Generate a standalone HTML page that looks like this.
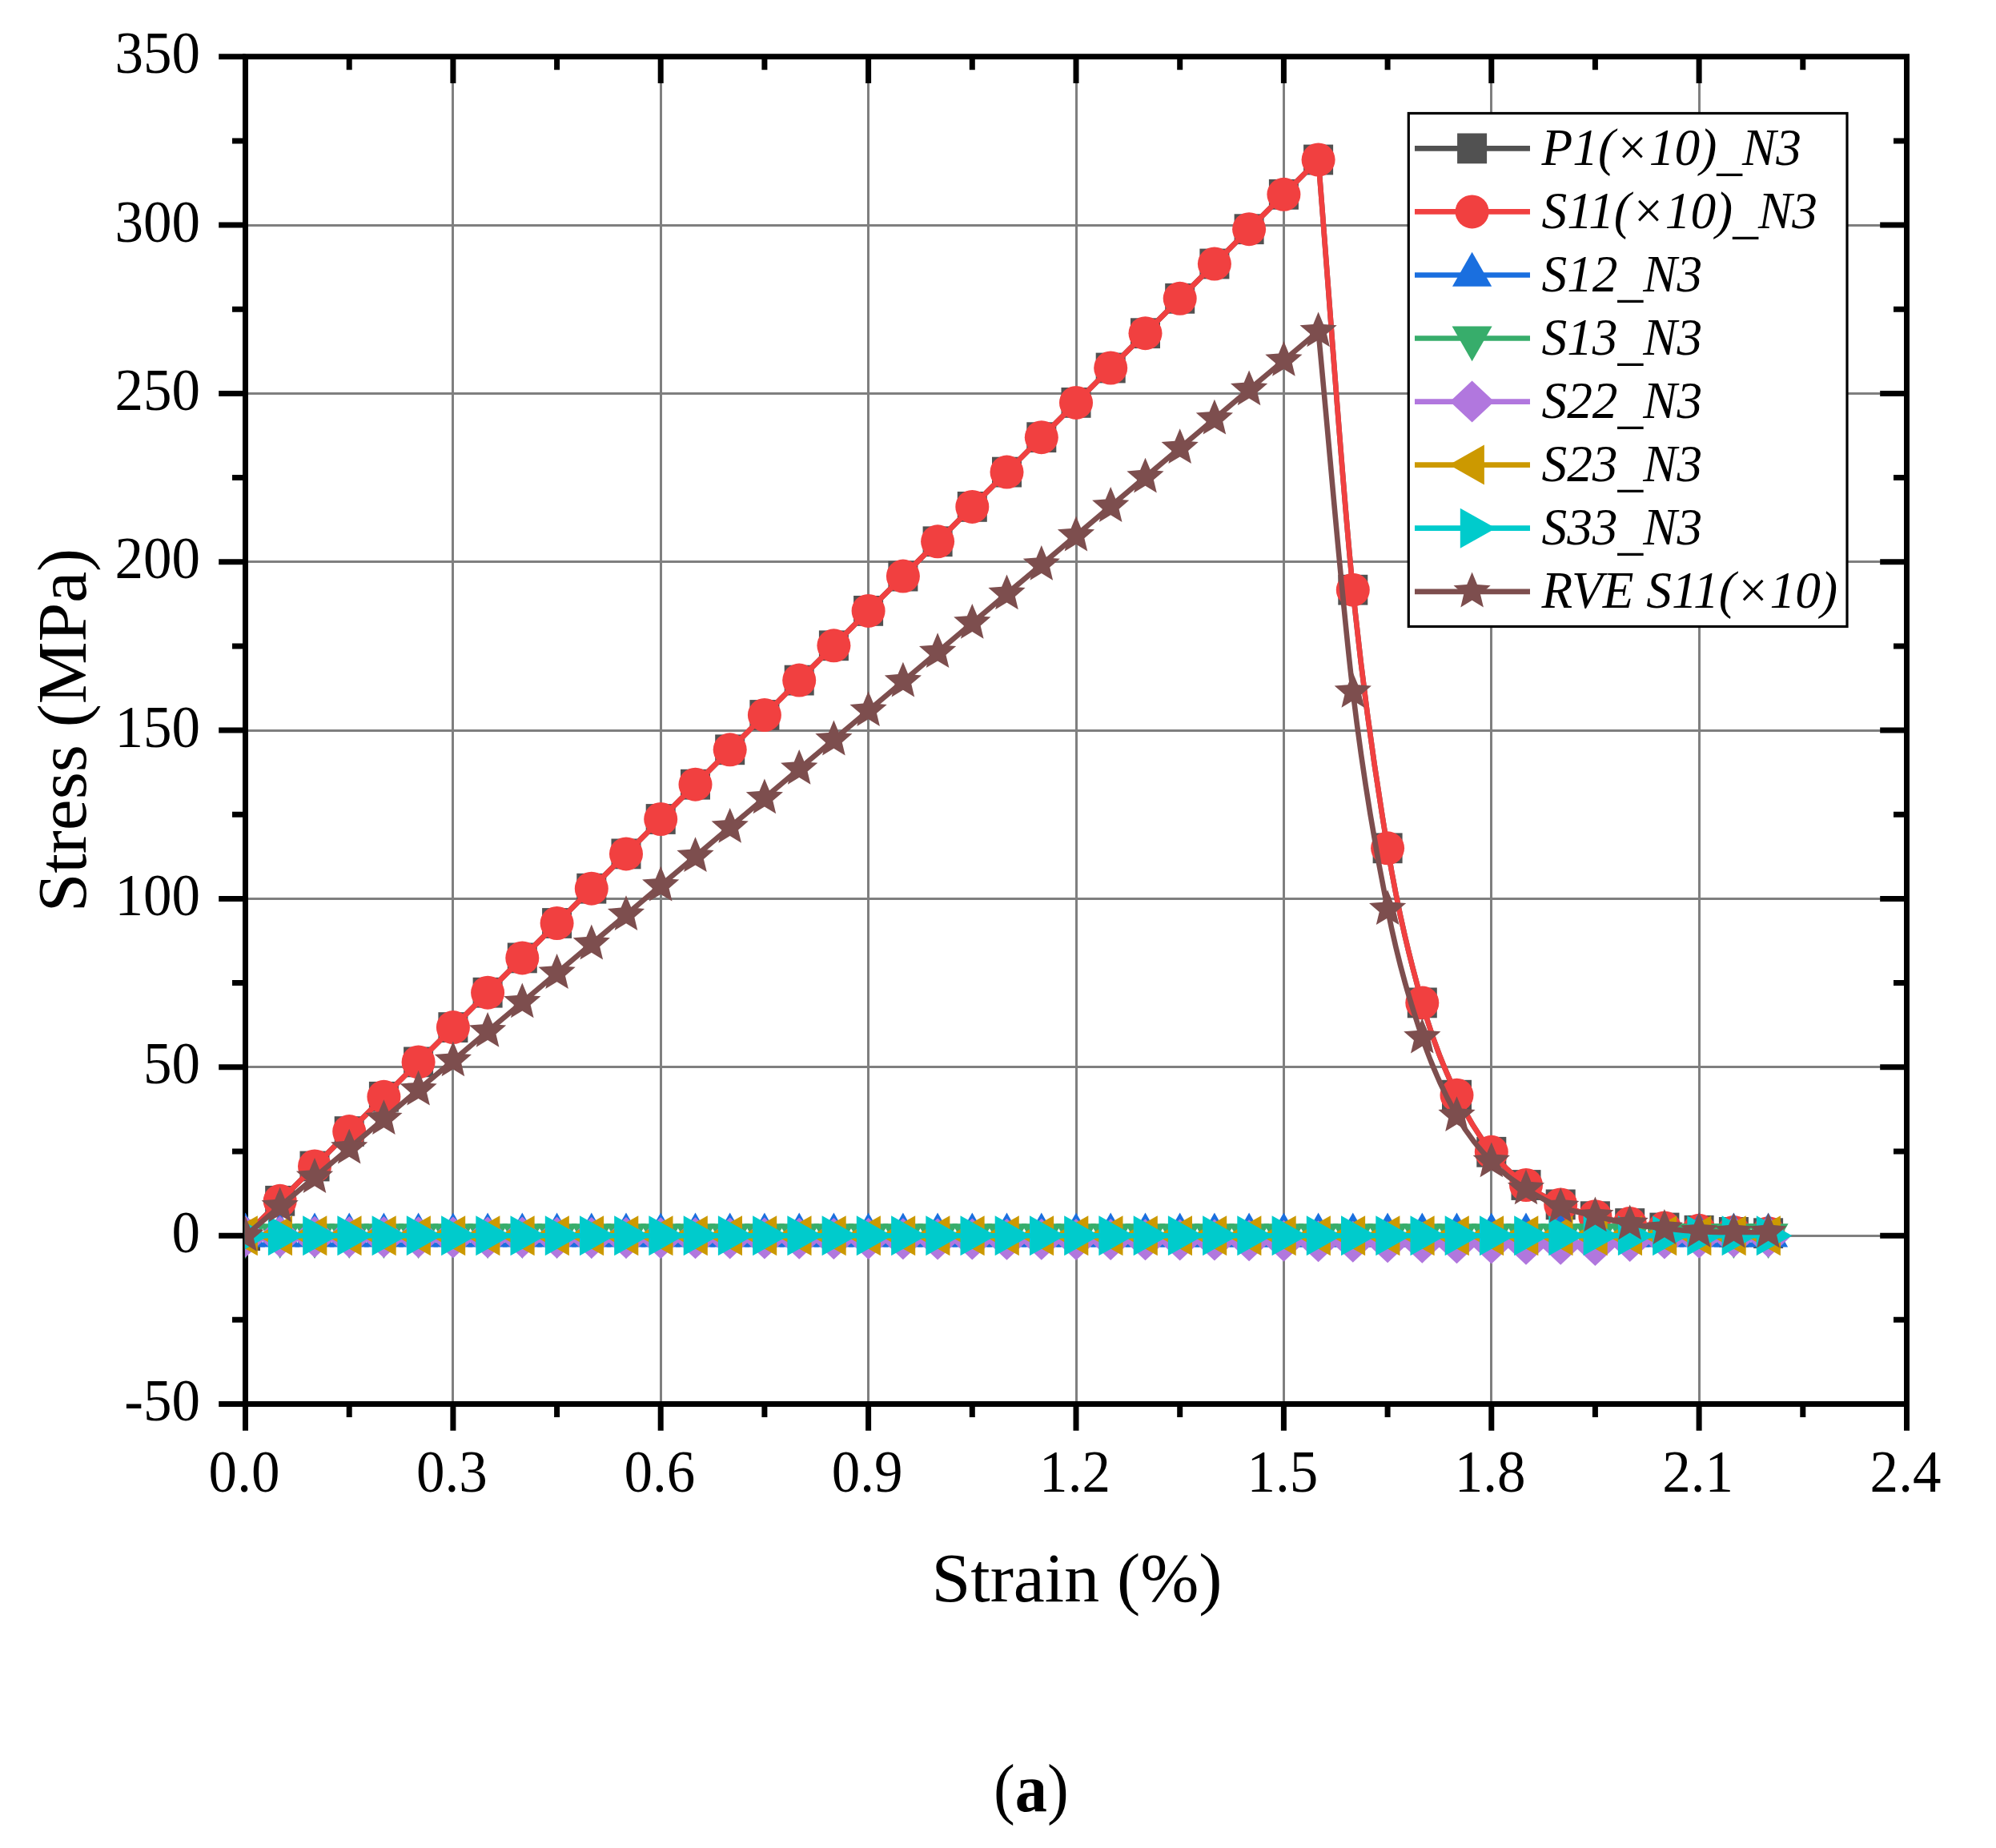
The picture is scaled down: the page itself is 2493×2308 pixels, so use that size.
<!DOCTYPE html>
<html lang="en"><head><meta charset="utf-8"><title>Stress-strain curves (a)</title>
<style>html,body{margin:0;padding:0;background:#fff}svg{display:block}text{font-family:"Liberation Serif","Times New Roman",serif;fill:#000}.tk{font-size:74.8px}.ax{font-size:87.5px}.lg{font-size:65px;font-style:italic}</style></head><body>
<svg width="2493" height="2308" viewBox="0 0 2493 2308">
<rect width="2493" height="2308" fill="#fff"/>
<defs>
<g id="m-sq"><rect x="-18.5" y="-18.9" width="37" height="37.8"/></g>
<g id="m-ci"><circle r="21"/></g>
<g id="m-up"><path d="M0,-28.7L24.6,14.3L-24.6,14.3Z"/></g>
<g id="m-dn"><path d="M0,28.8L25,-15L-25,-15Z"/></g>
<g id="m-di"><path d="M0,-26L27.6,0L0,26L-27.6,0Z"/></g>
<g id="m-lt"><path d="M-28.8,0L15.3,-25L15.3,25Z"/></g>
<g id="m-rt"><path d="M29.8,0L-14.8,-25L-14.8,25Z"/></g>
<g id="m-st"><path d="M0,-24.2L6.4,-8.8L23.1,-7.5L10.4,3.4L14.3,19.6L0,10.9L-14.3,19.6L-10.4,3.4L-23.1,-7.5L-6.4,-8.8Z"/></g>
<clipPath id="clip"><rect x="305.9" y="70.7" width="2075.6" height="1682.8"/></clipPath>
</defs>
<path d="M565.5,70.7V1753.5M825.5,70.7V1753.5M1084.5,70.7V1753.5M1344.5,70.7V1753.5M1603.5,70.7V1753.5M1862.5,70.7V1753.5M2122.5,70.7V1753.5M306.5,1543.5H2381.5M306.5,1332.5H2381.5M306.5,1122.5H2381.5M306.5,912.5H2381.5M306.5,701.5H2381.5M306.5,491.5H2381.5M306.5,281.5H2381.5" stroke="#7F7F7F" stroke-width="3" fill="none"/>
<rect x="306.5" y="70.7" width="2075" height="1682.8" fill="none" stroke="#000" stroke-width="7"/>
<path d="M306.5,1753.5v33.3M436.2,1753.5v16.5M436.2,70.7v16.5M565.9,1753.5v33.3M565.9,70.7v33.3M695.6,1753.5v16.5M695.6,70.7v16.5M825.2,1753.5v33.3M825.2,70.7v33.3M954.9,1753.5v16.5M954.9,70.7v16.5M1084.6,1753.5v33.3M1084.6,70.7v33.3M1214.3,1753.5v16.5M1214.3,70.7v16.5M1344,1753.5v33.3M1344,70.7v33.3M1473.7,1753.5v16.5M1473.7,70.7v16.5M1603.4,1753.5v33.3M1603.4,70.7v33.3M1733.1,1753.5v16.5M1733.1,70.7v16.5M1862.8,1753.5v33.3M1862.8,70.7v33.3M1992.4,1753.5v16.5M1992.4,70.7v16.5M2122.1,1753.5v33.3M2122.1,70.7v33.3M2251.8,1753.5v16.5M2251.8,70.7v16.5M2381.5,1753.5v33.3M306.5,1753.5h-33.3M306.5,1648.3h-16.5M2381.5,1648.3h-16.5M306.5,1543.2h-33.3M2381.5,1543.2h-33.3M306.5,1438h-16.5M2381.5,1438h-16.5M306.5,1332.8h-33.3M2381.5,1332.8h-33.3M306.5,1227.6h-16.5M2381.5,1227.6h-16.5M306.5,1122.5h-33.3M2381.5,1122.5h-33.3M306.5,1017.3h-16.5M2381.5,1017.3h-16.5M306.5,912.1h-33.3M2381.5,912.1h-33.3M306.5,806.9h-16.5M2381.5,806.9h-16.5M306.5,701.8h-33.3M2381.5,701.8h-33.3M306.5,596.6h-16.5M2381.5,596.6h-16.5M306.5,491.4h-33.3M2381.5,491.4h-33.3M306.5,386.2h-16.5M2381.5,386.2h-16.5M306.5,281.1h-33.3M2381.5,281.1h-33.3M306.5,175.9h-16.5M2381.5,175.9h-16.5M306.5,70.7h-33.3" stroke="#000" stroke-width="7" fill="none"/>
<text class="tk" transform="translate(250 1774.1) scale(0.95 1)" text-anchor="end">-50</text>
<text class="tk" transform="translate(250 1563.8) scale(0.95 1)" text-anchor="end">0</text>
<text class="tk" transform="translate(250 1353.4) scale(0.95 1)" text-anchor="end">50</text>
<text class="tk" transform="translate(250 1143) scale(0.95 1)" text-anchor="end">100</text>
<text class="tk" transform="translate(250 932.7) scale(0.95 1)" text-anchor="end">150</text>
<text class="tk" transform="translate(250 722.4) scale(0.95 1)" text-anchor="end">200</text>
<text class="tk" transform="translate(250 512) scale(0.95 1)" text-anchor="end">250</text>
<text class="tk" transform="translate(250 301.7) scale(0.95 1)" text-anchor="end">300</text>
<text class="tk" transform="translate(250 91.3) scale(0.95 1)" text-anchor="end">350</text>
<text class="tk" transform="translate(305 1862.6) scale(0.95 1)" text-anchor="middle">0.0</text>
<text class="tk" transform="translate(564.4 1862.6) scale(0.95 1)" text-anchor="middle">0.3</text>
<text class="tk" transform="translate(823.8 1862.6) scale(0.95 1)" text-anchor="middle">0.6</text>
<text class="tk" transform="translate(1083.1 1862.6) scale(0.95 1)" text-anchor="middle">0.9</text>
<text class="tk" transform="translate(1342.5 1862.6) scale(0.95 1)" text-anchor="middle">1.2</text>
<text class="tk" transform="translate(1601.9 1862.6) scale(0.95 1)" text-anchor="middle">1.5</text>
<text class="tk" transform="translate(1861.2 1862.6) scale(0.95 1)" text-anchor="middle">1.8</text>
<text class="tk" transform="translate(2120.6 1862.6) scale(0.95 1)" text-anchor="middle">2.1</text>
<text class="tk" transform="translate(2380 1862.6) scale(0.95 1)" text-anchor="middle">2.4</text>
<text class="ax" transform="translate(1345 2000.4) scale(1.003 1)" text-anchor="middle">Strain (%)</text>
<text class="ax" transform="translate(107.4 912) rotate(-90)" text-anchor="middle">Stress (MPa)</text>
<g clip-path="url(#clip)">
<path d="M306.5,1543.2L349.7,1499.8L393,1456.5L436.2,1413.1L479.4,1369.8L522.6,1326.4L565.9,1283.1L609.1,1239.7L652.3,1196.4L695.6,1153L738.8,1109.7L782,1066.4L825.2,1023L868.5,979.7L911.7,936.3L954.9,893L998.2,849.6L1041.4,806.3L1084.6,762.9L1127.9,719.6L1171.1,676.3L1214.3,632.9L1257.5,589.6L1300.8,546.2L1344,502.9L1387.2,459.5L1430.5,416.2L1473.7,372.8L1516.9,329.5L1560.1,286.2L1603.4,242.8L1646.6,199.5C1661.01,378.53 1675.42,593.35 1689.8,736.7C1704.24,879.98 1718.65,973.38 1733.1,1059.3C1747.47,1145.31 1761.88,1201.05 1776.3,1252.4C1790.7,1303.84 1805.11,1336.66 1819.5,1367.7C1833.93,1398.78 1848.34,1420.1 1862.8,1438.8C1877.16,1457.54 1891.57,1469.11 1906,1480C1920.39,1490.98 1934.8,1497.92 1949.2,1504.4C1963.62,1510.97 1978.03,1515.24 1992.4,1519.2C2006.85,1523.1 2021.26,1525.62 2035.7,1528C2050.08,1530.39 2064.49,1532 2078.9,1533.5C2093.31,1534.95 2107.72,1535.93 2122.1,1536.8C2136.53,1537.75 2150.94,1538.38 2165.4,1538.9C2179.76,1539.5 2194.17,1539.78 2208.6,1540.2" fill="none" stroke="#515151" stroke-width="6.6" stroke-linejoin="round"/>
<g fill="#515151"><use href="#m-sq" x="306.5" y="1543.2"/><use href="#m-sq" x="349.7" y="1499.8"/><use href="#m-sq" x="393" y="1456.5"/><use href="#m-sq" x="436.2" y="1413.1"/><use href="#m-sq" x="479.4" y="1369.8"/><use href="#m-sq" x="522.6" y="1326.4"/><use href="#m-sq" x="565.9" y="1283.1"/><use href="#m-sq" x="609.1" y="1239.7"/><use href="#m-sq" x="652.3" y="1196.4"/><use href="#m-sq" x="695.6" y="1153"/><use href="#m-sq" x="738.8" y="1109.7"/><use href="#m-sq" x="782" y="1066.4"/><use href="#m-sq" x="825.2" y="1023"/><use href="#m-sq" x="868.5" y="979.7"/><use href="#m-sq" x="911.7" y="936.3"/><use href="#m-sq" x="954.9" y="893"/><use href="#m-sq" x="998.2" y="849.6"/><use href="#m-sq" x="1041.4" y="806.3"/><use href="#m-sq" x="1084.6" y="762.9"/><use href="#m-sq" x="1127.9" y="719.6"/><use href="#m-sq" x="1171.1" y="676.3"/><use href="#m-sq" x="1214.3" y="632.9"/><use href="#m-sq" x="1257.5" y="589.6"/><use href="#m-sq" x="1300.8" y="546.2"/><use href="#m-sq" x="1344" y="502.9"/><use href="#m-sq" x="1387.2" y="459.5"/><use href="#m-sq" x="1430.5" y="416.2"/><use href="#m-sq" x="1473.7" y="372.8"/><use href="#m-sq" x="1516.9" y="329.5"/><use href="#m-sq" x="1560.1" y="286.2"/><use href="#m-sq" x="1603.4" y="242.8"/><use href="#m-sq" x="1646.6" y="199.5"/><use href="#m-sq" x="1689.8" y="736.7"/><use href="#m-sq" x="1733.1" y="1059.3"/><use href="#m-sq" x="1776.3" y="1252.4"/><use href="#m-sq" x="1819.5" y="1367.7"/><use href="#m-sq" x="1862.8" y="1438.8"/><use href="#m-sq" x="1906" y="1480"/><use href="#m-sq" x="1949.2" y="1504.4"/><use href="#m-sq" x="1992.4" y="1519.2"/><use href="#m-sq" x="2035.7" y="1528"/><use href="#m-sq" x="2078.9" y="1533.5"/><use href="#m-sq" x="2122.1" y="1536.8"/><use href="#m-sq" x="2165.4" y="1538.9"/><use href="#m-sq" x="2208.6" y="1540.2"/></g>
<path d="M306.5,1543.2L349.7,1499.8L393,1456.5L436.2,1413.1L479.4,1369.8L522.6,1326.4L565.9,1283.1L609.1,1239.7L652.3,1196.4L695.6,1153L738.8,1109.7L782,1066.4L825.2,1023L868.5,979.7L911.7,936.3L954.9,893L998.2,849.6L1041.4,806.3L1084.6,762.9L1127.9,719.6L1171.1,676.3L1214.3,632.9L1257.5,589.6L1300.8,546.2L1344,502.9L1387.2,459.5L1430.5,416.2L1473.7,372.8L1516.9,329.5L1560.1,286.2L1603.4,242.8L1646.6,199.5C1661.01,378.53 1675.42,593.35 1689.8,736.7C1704.24,879.98 1718.65,973.38 1733.1,1059.3C1747.47,1145.31 1761.88,1201.05 1776.3,1252.4C1790.7,1303.84 1805.11,1336.66 1819.5,1367.7C1833.93,1398.78 1848.34,1420.1 1862.8,1438.8C1877.16,1457.54 1891.57,1469.11 1906,1480C1920.39,1490.98 1934.8,1497.92 1949.2,1504.4C1963.62,1510.97 1978.03,1515.24 1992.4,1519.2C2006.85,1523.1 2021.26,1525.62 2035.7,1528C2050.08,1530.39 2064.49,1532 2078.9,1533.5C2093.31,1534.95 2107.72,1535.93 2122.1,1536.8C2136.53,1537.75 2150.94,1538.38 2165.4,1538.9C2179.76,1539.5 2194.17,1539.78 2208.6,1540.2" fill="none" stroke="#F14040" stroke-width="6.6" stroke-linejoin="round"/>
<g fill="#F14040"><use href="#m-ci" x="306.5" y="1543.2"/><use href="#m-ci" x="349.7" y="1499.8"/><use href="#m-ci" x="393" y="1456.5"/><use href="#m-ci" x="436.2" y="1413.1"/><use href="#m-ci" x="479.4" y="1369.8"/><use href="#m-ci" x="522.6" y="1326.4"/><use href="#m-ci" x="565.9" y="1283.1"/><use href="#m-ci" x="609.1" y="1239.7"/><use href="#m-ci" x="652.3" y="1196.4"/><use href="#m-ci" x="695.6" y="1153"/><use href="#m-ci" x="738.8" y="1109.7"/><use href="#m-ci" x="782" y="1066.4"/><use href="#m-ci" x="825.2" y="1023"/><use href="#m-ci" x="868.5" y="979.7"/><use href="#m-ci" x="911.7" y="936.3"/><use href="#m-ci" x="954.9" y="893"/><use href="#m-ci" x="998.2" y="849.6"/><use href="#m-ci" x="1041.4" y="806.3"/><use href="#m-ci" x="1084.6" y="762.9"/><use href="#m-ci" x="1127.9" y="719.6"/><use href="#m-ci" x="1171.1" y="676.3"/><use href="#m-ci" x="1214.3" y="632.9"/><use href="#m-ci" x="1257.5" y="589.6"/><use href="#m-ci" x="1300.8" y="546.2"/><use href="#m-ci" x="1344" y="502.9"/><use href="#m-ci" x="1387.2" y="459.5"/><use href="#m-ci" x="1430.5" y="416.2"/><use href="#m-ci" x="1473.7" y="372.8"/><use href="#m-ci" x="1516.9" y="329.5"/><use href="#m-ci" x="1560.1" y="286.2"/><use href="#m-ci" x="1603.4" y="242.8"/><use href="#m-ci" x="1646.6" y="199.5"/><use href="#m-ci" x="1689.8" y="736.7"/><use href="#m-ci" x="1733.1" y="1059.3"/><use href="#m-ci" x="1776.3" y="1252.4"/><use href="#m-ci" x="1819.5" y="1367.7"/><use href="#m-ci" x="1862.8" y="1438.8"/><use href="#m-ci" x="1906" y="1480"/><use href="#m-ci" x="1949.2" y="1504.4"/><use href="#m-ci" x="1992.4" y="1519.2"/><use href="#m-ci" x="2035.7" y="1528"/><use href="#m-ci" x="2078.9" y="1533.5"/><use href="#m-ci" x="2122.1" y="1536.8"/><use href="#m-ci" x="2165.4" y="1538.9"/><use href="#m-ci" x="2208.6" y="1540.2"/></g>
<path d="M306.5,1543.2L349.7,1543.2L393,1543.2L436.2,1543.2L479.4,1543.2L522.6,1543.2L565.9,1543.2L609.1,1543.2L652.3,1543.2L695.6,1543.2L738.8,1543.2L782,1543.2L825.2,1543.2L868.5,1543.2L911.7,1543.2L954.9,1543.2L998.2,1543.2L1041.4,1543.2L1084.6,1543.2L1127.9,1543.2L1171.1,1543.2L1214.3,1543.2L1257.5,1543.2L1300.8,1543.2L1344,1543.2L1387.2,1543.2L1430.5,1543.2L1473.7,1543.2L1516.9,1543.2L1560.1,1543.2L1603.4,1543.2L1646.6,1543.2L1689.8,1543.2L1733.1,1543.2L1776.3,1543.2L1819.5,1543.2L1862.8,1543.2L1906,1543.2L1949.2,1543.2L1992.4,1543.2L2035.7,1543.2L2078.9,1543.2L2122.1,1543.2L2165.4,1543.2L2208.6,1543.2" fill="none" stroke="#1A6FDF" stroke-width="6.6" stroke-linejoin="round"/>
<g fill="#1A6FDF"><use href="#m-up" x="306.5" y="1543.2"/><use href="#m-up" x="349.7" y="1543.2"/><use href="#m-up" x="393" y="1543.2"/><use href="#m-up" x="436.2" y="1543.2"/><use href="#m-up" x="479.4" y="1543.2"/><use href="#m-up" x="522.6" y="1543.2"/><use href="#m-up" x="565.9" y="1543.2"/><use href="#m-up" x="609.1" y="1543.2"/><use href="#m-up" x="652.3" y="1543.2"/><use href="#m-up" x="695.6" y="1543.2"/><use href="#m-up" x="738.8" y="1543.2"/><use href="#m-up" x="782" y="1543.2"/><use href="#m-up" x="825.2" y="1543.2"/><use href="#m-up" x="868.5" y="1543.2"/><use href="#m-up" x="911.7" y="1543.2"/><use href="#m-up" x="954.9" y="1543.2"/><use href="#m-up" x="998.2" y="1543.2"/><use href="#m-up" x="1041.4" y="1543.2"/><use href="#m-up" x="1084.6" y="1543.2"/><use href="#m-up" x="1127.9" y="1543.2"/><use href="#m-up" x="1171.1" y="1543.2"/><use href="#m-up" x="1214.3" y="1543.2"/><use href="#m-up" x="1257.5" y="1543.2"/><use href="#m-up" x="1300.8" y="1543.2"/><use href="#m-up" x="1344" y="1543.2"/><use href="#m-up" x="1387.2" y="1543.2"/><use href="#m-up" x="1430.5" y="1543.2"/><use href="#m-up" x="1473.7" y="1543.2"/><use href="#m-up" x="1516.9" y="1543.2"/><use href="#m-up" x="1560.1" y="1543.2"/><use href="#m-up" x="1603.4" y="1543.2"/><use href="#m-up" x="1646.6" y="1543.2"/><use href="#m-up" x="1689.8" y="1543.2"/><use href="#m-up" x="1733.1" y="1543.2"/><use href="#m-up" x="1776.3" y="1543.2"/><use href="#m-up" x="1819.5" y="1543.2"/><use href="#m-up" x="1862.8" y="1543.2"/><use href="#m-up" x="1906" y="1543.2"/><use href="#m-up" x="1949.2" y="1543.2"/><use href="#m-up" x="1992.4" y="1543.2"/><use href="#m-up" x="2035.7" y="1543.2"/><use href="#m-up" x="2078.9" y="1543.2"/><use href="#m-up" x="2122.1" y="1543.2"/><use href="#m-up" x="2165.4" y="1543.2"/><use href="#m-up" x="2208.6" y="1543.2"/></g>
<path d="M306.5,1543.2L349.7,1543.2L393,1543.2L436.2,1543.2L479.4,1543.2L522.6,1543.2L565.9,1543.2L609.1,1543.2L652.3,1543.2L695.6,1543.2L738.8,1543.2L782,1543.2L825.2,1543.2L868.5,1543.2L911.7,1543.2L954.9,1543.2L998.2,1543.2L1041.4,1543.2L1084.6,1543.2L1127.9,1543.2L1171.1,1543.2L1214.3,1543.2L1257.5,1543.2L1300.8,1543.2L1344,1543.2L1387.2,1543.2L1430.5,1543.2L1473.7,1543.2L1516.9,1543.2L1560.1,1543.2L1603.4,1543.2L1646.6,1543.2L1689.8,1543.2L1733.1,1543.2L1776.3,1543.2L1819.5,1543.2L1862.8,1543.2L1906,1543.2L1949.2,1543.2L1992.4,1543.2L2035.7,1543.2L2078.9,1543.2L2122.1,1543.2L2165.4,1543.2L2208.6,1543.2" fill="none" stroke="#37AD6B" stroke-width="6.6" stroke-linejoin="round"/>
<g fill="#37AD6B"><use href="#m-dn" x="306.5" y="1543.2"/><use href="#m-dn" x="349.7" y="1543.2"/><use href="#m-dn" x="393" y="1543.2"/><use href="#m-dn" x="436.2" y="1543.2"/><use href="#m-dn" x="479.4" y="1543.2"/><use href="#m-dn" x="522.6" y="1543.2"/><use href="#m-dn" x="565.9" y="1543.2"/><use href="#m-dn" x="609.1" y="1543.2"/><use href="#m-dn" x="652.3" y="1543.2"/><use href="#m-dn" x="695.6" y="1543.2"/><use href="#m-dn" x="738.8" y="1543.2"/><use href="#m-dn" x="782" y="1543.2"/><use href="#m-dn" x="825.2" y="1543.2"/><use href="#m-dn" x="868.5" y="1543.2"/><use href="#m-dn" x="911.7" y="1543.2"/><use href="#m-dn" x="954.9" y="1543.2"/><use href="#m-dn" x="998.2" y="1543.2"/><use href="#m-dn" x="1041.4" y="1543.2"/><use href="#m-dn" x="1084.6" y="1543.2"/><use href="#m-dn" x="1127.9" y="1543.2"/><use href="#m-dn" x="1171.1" y="1543.2"/><use href="#m-dn" x="1214.3" y="1543.2"/><use href="#m-dn" x="1257.5" y="1543.2"/><use href="#m-dn" x="1300.8" y="1543.2"/><use href="#m-dn" x="1344" y="1543.2"/><use href="#m-dn" x="1387.2" y="1543.2"/><use href="#m-dn" x="1430.5" y="1543.2"/><use href="#m-dn" x="1473.7" y="1543.2"/><use href="#m-dn" x="1516.9" y="1543.2"/><use href="#m-dn" x="1560.1" y="1543.2"/><use href="#m-dn" x="1603.4" y="1543.2"/><use href="#m-dn" x="1646.6" y="1543.2"/><use href="#m-dn" x="1689.8" y="1543.2"/><use href="#m-dn" x="1733.1" y="1543.2"/><use href="#m-dn" x="1776.3" y="1543.2"/><use href="#m-dn" x="1819.5" y="1543.2"/><use href="#m-dn" x="1862.8" y="1543.2"/><use href="#m-dn" x="1906" y="1543.2"/><use href="#m-dn" x="1949.2" y="1543.2"/><use href="#m-dn" x="1992.4" y="1543.2"/><use href="#m-dn" x="2035.7" y="1543.2"/><use href="#m-dn" x="2078.9" y="1543.2"/><use href="#m-dn" x="2122.1" y="1543.2"/><use href="#m-dn" x="2165.4" y="1543.2"/><use href="#m-dn" x="2208.6" y="1543.2"/></g>
<path d="M306.5,1544.4L349.7,1544.6L393,1544.8L436.2,1545L479.4,1545.1L522.6,1545.2L565.9,1545.4L609.1,1545.5L652.3,1545.6L695.6,1545.8L738.8,1545.9L782,1546L825.2,1546.2L868.5,1546.3L911.7,1546.5L954.9,1546.6L998.2,1546.7L1041.4,1546.9L1084.6,1547L1127.9,1547.2L1171.1,1547.4L1214.3,1547.5L1257.5,1547.7L1300.8,1547.8L1344,1548L1387.2,1548.1L1430.5,1548.3L1473.7,1548.5L1516.9,1548.6L1560.1,1549.2L1603.4,1549.7L1646.6,1550.3L1689.8,1550.8L1733.1,1551.2L1776.3,1551.7L1819.5,1552.2L1862.8,1552.6L1906,1553.7L1949.2,1553.7L1992.4,1554.9L2035.7,1549.9L2078.9,1546.5L2122.1,1545.7L2165.4,1544.8L2208.6,1544.8" fill="none" stroke="#B177DE" stroke-width="6.6" stroke-linejoin="round"/>
<g fill="#B177DE"><use href="#m-di" x="306.5" y="1544.4"/><use href="#m-di" x="349.7" y="1544.6"/><use href="#m-di" x="393" y="1544.8"/><use href="#m-di" x="436.2" y="1545"/><use href="#m-di" x="479.4" y="1545.1"/><use href="#m-di" x="522.6" y="1545.2"/><use href="#m-di" x="565.9" y="1545.4"/><use href="#m-di" x="609.1" y="1545.5"/><use href="#m-di" x="652.3" y="1545.6"/><use href="#m-di" x="695.6" y="1545.8"/><use href="#m-di" x="738.8" y="1545.9"/><use href="#m-di" x="782" y="1546"/><use href="#m-di" x="825.2" y="1546.2"/><use href="#m-di" x="868.5" y="1546.3"/><use href="#m-di" x="911.7" y="1546.5"/><use href="#m-di" x="954.9" y="1546.6"/><use href="#m-di" x="998.2" y="1546.7"/><use href="#m-di" x="1041.4" y="1546.9"/><use href="#m-di" x="1084.6" y="1547"/><use href="#m-di" x="1127.9" y="1547.2"/><use href="#m-di" x="1171.1" y="1547.4"/><use href="#m-di" x="1214.3" y="1547.5"/><use href="#m-di" x="1257.5" y="1547.7"/><use href="#m-di" x="1300.8" y="1547.8"/><use href="#m-di" x="1344" y="1548"/><use href="#m-di" x="1387.2" y="1548.1"/><use href="#m-di" x="1430.5" y="1548.3"/><use href="#m-di" x="1473.7" y="1548.5"/><use href="#m-di" x="1516.9" y="1548.6"/><use href="#m-di" x="1560.1" y="1549.2"/><use href="#m-di" x="1603.4" y="1549.7"/><use href="#m-di" x="1646.6" y="1550.3"/><use href="#m-di" x="1689.8" y="1550.8"/><use href="#m-di" x="1733.1" y="1551.2"/><use href="#m-di" x="1776.3" y="1551.7"/><use href="#m-di" x="1819.5" y="1552.2"/><use href="#m-di" x="1862.8" y="1552.6"/><use href="#m-di" x="1906" y="1553.7"/><use href="#m-di" x="1949.2" y="1553.7"/><use href="#m-di" x="1992.4" y="1554.9"/><use href="#m-di" x="2035.7" y="1549.9"/><use href="#m-di" x="2078.9" y="1546.5"/><use href="#m-di" x="2122.1" y="1545.7"/><use href="#m-di" x="2165.4" y="1544.8"/><use href="#m-di" x="2208.6" y="1544.8"/></g>
<path d="M306.5,1543.2L349.7,1543.2L393,1543.2L436.2,1543.2L479.4,1543.2L522.6,1543.2L565.9,1543.2L609.1,1543.2L652.3,1543.2L695.6,1543.2L738.8,1543.2L782,1543.2L825.2,1543.2L868.5,1543.2L911.7,1543.2L954.9,1543.2L998.2,1543.2L1041.4,1543.2L1084.6,1543.2L1127.9,1543.2L1171.1,1543.2L1214.3,1543.2L1257.5,1543.2L1300.8,1543.2L1344,1543.2L1387.2,1543.2L1430.5,1543.2L1473.7,1543.2L1516.9,1543.2L1560.1,1543.2L1603.4,1543.2L1646.6,1543.2L1689.8,1543.2L1733.1,1543.2L1776.3,1543.2L1819.5,1543.2L1862.8,1543.2L1906,1543.2L1949.2,1543.2L1992.4,1543.2L2035.7,1543.2L2078.9,1543.2L2122.1,1543.2L2165.4,1543.2L2208.6,1543.2" fill="none" stroke="#CC9900" stroke-width="6.6" stroke-linejoin="round"/>
<g fill="#CC9900"><use href="#m-lt" x="306.5" y="1543.2"/><use href="#m-lt" x="349.7" y="1543.2"/><use href="#m-lt" x="393" y="1543.2"/><use href="#m-lt" x="436.2" y="1543.2"/><use href="#m-lt" x="479.4" y="1543.2"/><use href="#m-lt" x="522.6" y="1543.2"/><use href="#m-lt" x="565.9" y="1543.2"/><use href="#m-lt" x="609.1" y="1543.2"/><use href="#m-lt" x="652.3" y="1543.2"/><use href="#m-lt" x="695.6" y="1543.2"/><use href="#m-lt" x="738.8" y="1543.2"/><use href="#m-lt" x="782" y="1543.2"/><use href="#m-lt" x="825.2" y="1543.2"/><use href="#m-lt" x="868.5" y="1543.2"/><use href="#m-lt" x="911.7" y="1543.2"/><use href="#m-lt" x="954.9" y="1543.2"/><use href="#m-lt" x="998.2" y="1543.2"/><use href="#m-lt" x="1041.4" y="1543.2"/><use href="#m-lt" x="1084.6" y="1543.2"/><use href="#m-lt" x="1127.9" y="1543.2"/><use href="#m-lt" x="1171.1" y="1543.2"/><use href="#m-lt" x="1214.3" y="1543.2"/><use href="#m-lt" x="1257.5" y="1543.2"/><use href="#m-lt" x="1300.8" y="1543.2"/><use href="#m-lt" x="1344" y="1543.2"/><use href="#m-lt" x="1387.2" y="1543.2"/><use href="#m-lt" x="1430.5" y="1543.2"/><use href="#m-lt" x="1473.7" y="1543.2"/><use href="#m-lt" x="1516.9" y="1543.2"/><use href="#m-lt" x="1560.1" y="1543.2"/><use href="#m-lt" x="1603.4" y="1543.2"/><use href="#m-lt" x="1646.6" y="1543.2"/><use href="#m-lt" x="1689.8" y="1543.2"/><use href="#m-lt" x="1733.1" y="1543.2"/><use href="#m-lt" x="1776.3" y="1543.2"/><use href="#m-lt" x="1819.5" y="1543.2"/><use href="#m-lt" x="1862.8" y="1543.2"/><use href="#m-lt" x="1906" y="1543.2"/><use href="#m-lt" x="1949.2" y="1543.2"/><use href="#m-lt" x="1992.4" y="1543.2"/><use href="#m-lt" x="2035.7" y="1543.2"/><use href="#m-lt" x="2078.9" y="1543.2"/><use href="#m-lt" x="2122.1" y="1543.2"/><use href="#m-lt" x="2165.4" y="1543.2"/><use href="#m-lt" x="2208.6" y="1543.2"/></g>
<path d="M306.5,1543.2L349.7,1543.2L393,1543.2L436.2,1543.2L479.4,1543.2L522.6,1543.2L565.9,1543.2L609.1,1543.2L652.3,1543.2L695.6,1543.2L738.8,1543.2L782,1543.2L825.2,1543.2L868.5,1543.2L911.7,1543.2L954.9,1543.2L998.2,1543.2L1041.4,1543.2L1084.6,1543.2L1127.9,1543.2L1171.1,1543.2L1214.3,1543.2L1257.5,1543.2L1300.8,1543.2L1344,1543.2L1387.2,1543.2L1430.5,1543.2L1473.7,1543.2L1516.9,1543.2L1560.1,1543.2L1603.4,1543.2L1646.6,1543.2L1689.8,1543.2L1733.1,1543.2L1776.3,1543.2L1819.5,1543.2L1862.8,1543.2L1906,1543.2L1949.2,1543.2L1992.4,1543.2L2035.7,1543.2L2078.9,1543.2L2122.1,1543.2L2165.4,1543.2L2208.6,1543.2" fill="none" stroke="#00CBCC" stroke-width="6.6" stroke-linejoin="round"/>
<g fill="#00CBCC"><use href="#m-rt" x="306.5" y="1543.2"/><use href="#m-rt" x="349.7" y="1543.2"/><use href="#m-rt" x="393" y="1543.2"/><use href="#m-rt" x="436.2" y="1543.2"/><use href="#m-rt" x="479.4" y="1543.2"/><use href="#m-rt" x="522.6" y="1543.2"/><use href="#m-rt" x="565.9" y="1543.2"/><use href="#m-rt" x="609.1" y="1543.2"/><use href="#m-rt" x="652.3" y="1543.2"/><use href="#m-rt" x="695.6" y="1543.2"/><use href="#m-rt" x="738.8" y="1543.2"/><use href="#m-rt" x="782" y="1543.2"/><use href="#m-rt" x="825.2" y="1543.2"/><use href="#m-rt" x="868.5" y="1543.2"/><use href="#m-rt" x="911.7" y="1543.2"/><use href="#m-rt" x="954.9" y="1543.2"/><use href="#m-rt" x="998.2" y="1543.2"/><use href="#m-rt" x="1041.4" y="1543.2"/><use href="#m-rt" x="1084.6" y="1543.2"/><use href="#m-rt" x="1127.9" y="1543.2"/><use href="#m-rt" x="1171.1" y="1543.2"/><use href="#m-rt" x="1214.3" y="1543.2"/><use href="#m-rt" x="1257.5" y="1543.2"/><use href="#m-rt" x="1300.8" y="1543.2"/><use href="#m-rt" x="1344" y="1543.2"/><use href="#m-rt" x="1387.2" y="1543.2"/><use href="#m-rt" x="1430.5" y="1543.2"/><use href="#m-rt" x="1473.7" y="1543.2"/><use href="#m-rt" x="1516.9" y="1543.2"/><use href="#m-rt" x="1560.1" y="1543.2"/><use href="#m-rt" x="1603.4" y="1543.2"/><use href="#m-rt" x="1646.6" y="1543.2"/><use href="#m-rt" x="1689.8" y="1543.2"/><use href="#m-rt" x="1733.1" y="1543.2"/><use href="#m-rt" x="1776.3" y="1543.2"/><use href="#m-rt" x="1819.5" y="1543.2"/><use href="#m-rt" x="1862.8" y="1543.2"/><use href="#m-rt" x="1906" y="1543.2"/><use href="#m-rt" x="1949.2" y="1543.2"/><use href="#m-rt" x="1992.4" y="1543.2"/><use href="#m-rt" x="2035.7" y="1543.2"/><use href="#m-rt" x="2078.9" y="1543.2"/><use href="#m-rt" x="2122.1" y="1543.2"/><use href="#m-rt" x="2165.4" y="1543.2"/><use href="#m-rt" x="2208.6" y="1543.2"/></g>
<path d="M306.5,1543.2L349.7,1506.7L393,1470.3L436.2,1433.9L479.4,1397.4L522.6,1361L565.9,1324.6L609.1,1288.1L652.3,1251.7L695.6,1215.3L738.8,1178.8L782,1142.4L825.2,1106L868.5,1069.5L911.7,1033.1L954.9,996.7L998.2,960.2L1041.4,923.8L1084.6,887.4L1127.9,850.9L1171.1,814.5L1214.3,778.1L1257.5,741.6L1300.8,705.2L1344,668.8L1387.2,632.3L1430.5,595.9L1473.7,559.5L1516.9,523L1560.1,486.6L1603.4,450.2L1646.6,413.7C1661.01,563.87 1675.42,743.85 1689.8,864.1C1704.24,984.43 1718.65,1063.55 1733.1,1135.5C1747.47,1207.43 1761.88,1252.8 1776.3,1295.8C1790.7,1338.76 1805.11,1367.58 1819.5,1393.4C1833.93,1419.18 1848.34,1435.38 1862.8,1450.6C1877.16,1465.81 1891.57,1475.21 1906,1484.7C1920.39,1494.14 1934.8,1501.71 1949.2,1507.4C1963.62,1513.07 1978.03,1515.21 1992.4,1518.7C2006.85,1522.29 2021.26,1526.04 2035.7,1528.6C2050.08,1531.23 2064.49,1532.74 2078.9,1534.3C2093.31,1535.89 2107.72,1537.33 2122.1,1538.1C2136.53,1538.87 2150.94,1538.8 2165.4,1538.9C2179.76,1539.08 2194.17,1538.94 2208.6,1538.9" fill="none" stroke="#7D4E4E" stroke-width="6.6" stroke-linejoin="round"/>
<g fill="#7D4E4E"><use href="#m-st" x="306.5" y="1543.2"/><use href="#m-st" x="349.7" y="1506.7"/><use href="#m-st" x="393" y="1470.3"/><use href="#m-st" x="436.2" y="1433.9"/><use href="#m-st" x="479.4" y="1397.4"/><use href="#m-st" x="522.6" y="1361"/><use href="#m-st" x="565.9" y="1324.6"/><use href="#m-st" x="609.1" y="1288.1"/><use href="#m-st" x="652.3" y="1251.7"/><use href="#m-st" x="695.6" y="1215.3"/><use href="#m-st" x="738.8" y="1178.8"/><use href="#m-st" x="782" y="1142.4"/><use href="#m-st" x="825.2" y="1106"/><use href="#m-st" x="868.5" y="1069.5"/><use href="#m-st" x="911.7" y="1033.1"/><use href="#m-st" x="954.9" y="996.7"/><use href="#m-st" x="998.2" y="960.2"/><use href="#m-st" x="1041.4" y="923.8"/><use href="#m-st" x="1084.6" y="887.4"/><use href="#m-st" x="1127.9" y="850.9"/><use href="#m-st" x="1171.1" y="814.5"/><use href="#m-st" x="1214.3" y="778.1"/><use href="#m-st" x="1257.5" y="741.6"/><use href="#m-st" x="1300.8" y="705.2"/><use href="#m-st" x="1344" y="668.8"/><use href="#m-st" x="1387.2" y="632.3"/><use href="#m-st" x="1430.5" y="595.9"/><use href="#m-st" x="1473.7" y="559.5"/><use href="#m-st" x="1516.9" y="523"/><use href="#m-st" x="1560.1" y="486.6"/><use href="#m-st" x="1603.4" y="450.2"/><use href="#m-st" x="1646.6" y="413.7"/><use href="#m-st" x="1689.8" y="864.1"/><use href="#m-st" x="1733.1" y="1135.5"/><use href="#m-st" x="1776.3" y="1295.8"/><use href="#m-st" x="1819.5" y="1393.4"/><use href="#m-st" x="1862.8" y="1450.6"/><use href="#m-st" x="1906" y="1484.7"/><use href="#m-st" x="1949.2" y="1507.4"/><use href="#m-st" x="1992.4" y="1518.7"/><use href="#m-st" x="2035.7" y="1528.6"/><use href="#m-st" x="2078.9" y="1534.3"/><use href="#m-st" x="2122.1" y="1538.1"/><use href="#m-st" x="2165.4" y="1538.9"/><use href="#m-st" x="2208.6" y="1538.9"/></g>
</g>
<rect x="1759.3" y="141.5" width="547.7" height="641" fill="#fff" stroke="#000" stroke-width="3.2"/>
<path d="M1767,185.4H1911" stroke="#515151" stroke-width="6.7" fill="none"/>
<use href="#m-sq" x="1838.6" y="185.4" fill="#515151"/>
<text class="lg" transform="translate(1925.5 206) scale(0.975 1)">P1(×10)<tspan dy="6">_</tspan><tspan dy="-6">N3</tspan></text>
<path d="M1767,264.4H1911" stroke="#F14040" stroke-width="6.7" fill="none"/>
<use href="#m-ci" x="1838.6" y="264.4" fill="#F14040"/>
<text class="lg" transform="translate(1925.5 285.1) scale(0.975 1)">S11(×10)<tspan dy="6">_</tspan><tspan dy="-6">N3</tspan></text>
<path d="M1767,343.5H1911" stroke="#1A6FDF" stroke-width="6.7" fill="none"/>
<use href="#m-up" x="1838.6" y="343.5" fill="#1A6FDF"/>
<text class="lg" transform="translate(1925.5 364.1) scale(0.975 1)">S12<tspan dy="6">_</tspan><tspan dy="-6">N3</tspan></text>
<path d="M1767,422.5H1911" stroke="#37AD6B" stroke-width="6.7" fill="none"/>
<use href="#m-dn" x="1838.6" y="422.5" fill="#37AD6B"/>
<text class="lg" transform="translate(1925.5 443.1) scale(0.975 1)">S13<tspan dy="6">_</tspan><tspan dy="-6">N3</tspan></text>
<path d="M1767,501.6H1911" stroke="#B177DE" stroke-width="6.7" fill="none"/>
<use href="#m-di" x="1838.6" y="501.6" fill="#B177DE"/>
<text class="lg" transform="translate(1925.5 522.2) scale(0.975 1)">S22<tspan dy="6">_</tspan><tspan dy="-6">N3</tspan></text>
<path d="M1767,580.6H1911" stroke="#CC9900" stroke-width="6.7" fill="none"/>
<use href="#m-lt" x="1838.6" y="580.6" fill="#CC9900"/>
<text class="lg" transform="translate(1925.5 601.2) scale(0.975 1)">S23<tspan dy="6">_</tspan><tspan dy="-6">N3</tspan></text>
<path d="M1767,659.7H1911" stroke="#00CBCC" stroke-width="6.7" fill="none"/>
<use href="#m-rt" x="1838.6" y="659.7" fill="#00CBCC"/>
<text class="lg" transform="translate(1925.5 680.3) scale(0.975 1)">S33<tspan dy="6">_</tspan><tspan dy="-6">N3</tspan></text>
<path d="M1767,738.8H1911" stroke="#7D4E4E" stroke-width="6.7" fill="none"/>
<use href="#m-st" x="1838.6" y="738.8" fill="#7D4E4E"/>
<text class="lg" transform="translate(1925.5 759.4) scale(0.975 1)">RVE S11(×10)</text>
<text transform="translate(1241 2262) scale(0.945 1)" style="font-size:85px">(<tspan style="font-weight:bold">a</tspan>)</text>
</svg></body></html>
